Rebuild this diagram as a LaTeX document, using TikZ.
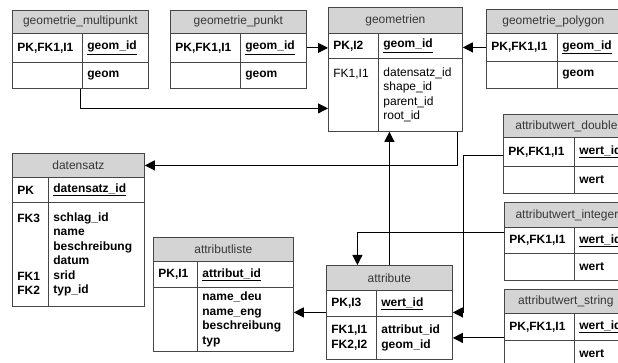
\documentclass[tikz,border=0pt]{standalone}
\usepackage{fontspec}
\setmainfont{Liberation Sans}
\usetikzlibrary{arrows.meta}
\definecolor{hdrgray}{RGB}{212,212,212}
\definecolor{framegray}{RGB}{70,70,70}
\definecolor{titlegray}{RGB}{55,55,55}

\begin{document}
\fontsize{12}{14.5}\selectfont
\begin{tikzpicture}[x=1pt,y=-1pt,
    hdr/.style={draw=framegray, fill=hdrgray, anchor=north west, inner sep=0pt, text=titlegray, line width=.8pt},
    cell/.style={draw=framegray, anchor=north west, inner xsep=5pt, inner ysep=0pt, align=left, font=\bfseries, line width=.8pt},
    light/.style={font=\mdseries},
    conn/.style={line width=1.1pt, -{Triangle[length=10pt,width=10pt]}}]
    \useasboundingbox (0,0) rectangle (618,363);
    \clip (0,0) rectangle (618,363);

    % geometrie_multipunkt
    \node (mpHead) at (12,10) [hdr, minimum width=136pt, minimum height=23pt] {geometrie\_multipunkt};
    \node (mpKey) at (12,33) [cell, text width=60pt, minimum height=29pt] {PK,FK1,I1};
    \node (mpId) at (82,33) [cell, text width=56pt, minimum height=29pt] {\underline{geom\_id}};
    \node (mpKey2) at (12,62) [cell, text width=60pt, minimum height=26pt] {};
    \node (mpGeom) at (82,62) [cell, text width=56pt, minimum height=26pt] {geom};

    % geometrie_punkt
    \node (ptHead) at (170,10) [hdr, minimum width=136pt, minimum height=23pt] {geometrie\_punkt};
    \node (ptKey) at (170,33) [cell, text width=60pt, minimum height=29pt] {PK,FK1,I1};
    \node (ptId) at (240,33) [cell, text width=56pt, minimum height=29pt] {\underline{geom\_id}};
    \node (ptKey2) at (170,62) [cell, text width=60pt, minimum height=26pt] {};
    \node (ptGeom) at (240,62) [cell, text width=56pt, minimum height=26pt] {geom};

    % geometrien
    \node (geoHead) at (328,7) [hdr, minimum width=134pt, minimum height=26pt] {geometrien};
    \node (geoKey) at (328,33) [cell, text width=40pt, minimum height=25pt] {PK,I2};
    \node (geoId) at (378,33) [cell, text width=74pt, minimum height=25pt] {\underline{geom\_id}};
    \node (geoBKey) at (328,58) [cell, light, text width=40pt, minimum height=73pt] {FK1,I1\\~\\~\\~};
    \node (geoBody) at (378,58) [cell, light, text width=74pt, minimum height=73pt] {datensatz\_id\\shape\_id\\parent\_id\\root\_id};

    % geometrie_polygon
    \node (pgHead) at (486,9) [hdr, minimum width=134pt, minimum height=24pt] {geometrie\_polygon};
    \node (pgKey) at (486,33) [cell, text width=61pt, minimum height=28pt] {PK,FK1,I1};
    \node (pgId) at (557,33) [cell, text width=53pt, minimum height=28pt] {\underline{geom\_id}};
    \node (pgKey2) at (486,61) [cell, text width=61pt, minimum height=27pt] {};
    \node (pgGeom) at (557,61) [cell, text width=53pt, minimum height=27pt] {geom};

    % datensatz
    \node (dsHead) at (12,153) [hdr, minimum width=132pt, minimum height=24pt] {datensatz};
    \node (dsKey) at (12,177) [cell, text width=26pt, minimum height=25pt] {PK};
    \node (dsId) at (48,177) [cell, text width=86pt, minimum height=25pt] {\underline{datensatz\_id}};
    \node (dsBKey) at (12,202) [cell, text width=26pt, minimum height=104pt] {FK3\\~\\~\\~\\FK1\\FK2};
    \node (dsBody) at (48,202) [cell, text width=86pt, minimum height=104pt] {schlag\_id\\name\\beschreibung\\datum\\srid\\typ\_id};

    % attributliste
    \node (alHead) at (153,237) [hdr, minimum width=140pt, minimum height=24pt] {attributliste};
    \node (alKey) at (153,261) [cell, text width=34pt, minimum height=26pt] {PK,I1};
    \node (alId) at (197,261) [cell, text width=86pt, minimum height=26pt] {\underline{attribut\_id}};
    \node (alBKey) at (153,287) [cell, text width=34pt, minimum height=64pt] {};
    \node (alBody) at (197,287) [cell, text width=86pt, minimum height=64pt] {name\_deu\\name\_eng\\beschreibung\\typ};

    % attribute
    \node (atHead) at (326,265) [hdr, minimum width=126pt, minimum height=25pt] {attribute};
    \node (atKey) at (326,290) [cell, text width=40pt, minimum height=26pt] {PK,I3};
    \node (atId) at (376,290) [cell, text width=66pt, minimum height=26pt] {\underline{wert\_id}};
    \node (atBKey) at (326,316) [cell, text width=40pt, minimum height=43pt] {FK1,I1\\FK2,I2};
    \node (atBody) at (376,316) [cell, text width=66pt, minimum height=43pt] {attribut\_id\\geom\_id};

    % attributwert_double
    \node (dbHead) at (503,114) [hdr, minimum width=126pt, minimum height=23pt] {attributwert\_double};
    \node (dbKey) at (503,137) [cell, text width=61pt, minimum height=29pt] {PK,FK1,I1};
    \node (dbId) at (574,137) [cell, text width=45pt, minimum height=29pt] {\underline{wert\_id}};
    \node (dbKey2) at (503,166) [cell, text width=61pt, minimum height=27pt] {};
    \node (dbWert) at (574,166) [cell, text width=45pt, minimum height=27pt] {wert};

    % attributwert_integer
    \node (inHead) at (504,202) [hdr, minimum width=125pt, minimum height=25pt] {attributwert\_integer};
    \node (inKey) at (504,227) [cell, text width=60pt, minimum height=26pt] {PK,FK1,I1};
    \node (inId) at (574,227) [cell, text width=45pt, minimum height=26pt] {\underline{wert\_id}};
    \node (inKey2) at (504,253) [cell, text width=60pt, minimum height=27pt] {};
    \node (inWert) at (574,253) [cell, text width=45pt, minimum height=27pt] {wert};

    % attributwert_string
    \node (stHead) at (504,289) [hdr, minimum width=123pt, minimum height=24pt] {attributwert\_string};
    \node (stKey) at (504,313) [cell, text width=60pt, minimum height=27pt] {PK,FK1,I1};
    \node (stId) at (574,313) [cell, text width=43pt, minimum height=27pt] {\underline{wert\_id}};
    \node (stKey2) at (504,340) [cell, text width=60pt, minimum height=27pt] {};
    \node (stWert) at (574,340) [cell, text width=43pt, minimum height=27pt] {wert};

    % connectors
    \draw[conn] ([xshift=-2pt]mpKey2.south east) |- ([yshift=-13.5pt]geoBKey.west);
    \draw[conn] (ptId.east) -- (ptId.east -| geoKey.west);
    \draw[conn] (pgKey.west) -- (pgKey.west -| geoId.east);
    \draw[conn] ([xshift=-5pt]geoBody.south east) |- (dsHead.east);
    \draw[conn] (atHead.north) -- (atHead.north |- geoBody.south);
    \draw[conn] ([yshift=8pt]inKey.west) -| ([xshift=-32pt]atHead.north);
    \draw[conn] ([yshift=-4pt]dbKey.west) -| ([xshift=11pt,yshift=-9pt]atId.east) -- ([yshift=-9pt]atId.east);
    \draw[conn] (stKey.west |- atBody.east) -- (atBody.east);
    \draw[conn] ([yshift=-9pt]atKey.west) -- ([yshift=-9pt]atKey.west -| alBody.east);
\end{tikzpicture}
\end{document}
